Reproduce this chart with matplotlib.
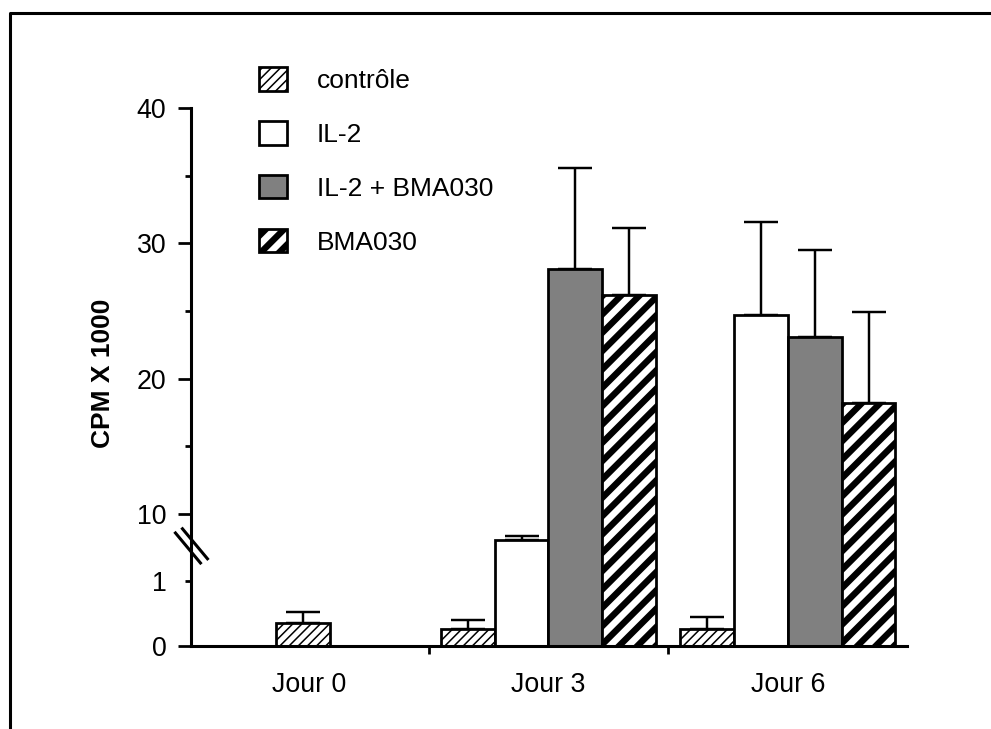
import numpy as np
import matplotlib
matplotlib.use('Agg')
import matplotlib.pyplot as plt
from matplotlib.lines import Line2D

plt.rcParams['font.family'] = ['Liberation Sans', 'DejaVu Sans']

groups = ['Jour 0', 'Jour 3', 'Jour 6']
series = ['contrôle', 'IL-2', 'IL-2 + BMA030', 'BMA030']

# CPM x 1000 per day; NaN where a condition was not measured
controle = [0.36, 0.27, 0.27]
controle_err = [0.17, 0.13, 0.18]
il2 = [np.nan, 6.5, 24.7]
il2_err = [np.nan, 0.6, 6.9]
il2_bma = [np.nan, 28.1, 23.1]
il2_bma_err = [np.nan, 7.5, 6.4]
bma = [np.nan, 26.2, 18.2]
bma_err = [np.nan, 4.9, 6.7]

# broken y axis: 0-1 and 10-40 drawn on their own linear pieces
yk = np.array([0.0, 1.0, 10.0, 40.0])
pk = np.array([0.0, 65.5, 132.5, 538.5])

def fwd(v):
    v = np.asarray(v, dtype=float)
    out = np.interp(v, yk, pk)
    out = np.where(v < 0, v * 65.5, out)
    out = np.where(v > 40, 538.5 + (v - 40) * 13.53, out)
    return out

def inv(p):
    p = np.asarray(p, dtype=float)
    out = np.interp(p, pk, yk)
    out = np.where(p < 0, p / 65.5, out)
    out = np.where(p > 538.5, 40 + (p - 538.5) / 13.53, out)
    return out

dpi = 110
fig = plt.figure(figsize=(991 / dpi, 729 / dpi), dpi=dpi)
ax = fig.add_axes([0.1932, 0.1132, 0.722, 0.7387])
ax.set_yscale('function', functions=(fwd, inv))

x = np.arange(len(groups))
w = 0.225
offs = np.array([-1.5, -0.5, 0.5, 1.5]) * w
# day 0 only has the control, centred on its group
ctrl_x = x + np.where(np.isnan(il2), -0.025, offs[0])

vals = [controle, il2, il2_bma, bma]
errs = [controle_err, il2_err, il2_bma_err, bma_err]
xs = [ctrl_x, x + offs[1], x + offs[2], x + offs[3]]
faces = ['white', 'white', '#808080', 'white']
hatches = ['////', None, None, '//']
hlw = [1.0, 1.0, 1.0, 4.2]

handles = []
for v, e, xx, fc, h, hl, lab in zip(vals, errs, xs, faces, hatches, hlw, series):
    with plt.rc_context({'hatch.linewidth': hl, 'hatch.color': 'black'}):
        bars = ax.bar(xx, v, width=w, color=fc, edgecolor='black',
                      linewidth=1.8, hatch=h, label=lab, zorder=2)
        for b in bars:
            if hasattr(b, 'set_hatch_linewidth'):
                b.set_hatch_linewidth(hl)
    handles.append(bars)
    e = np.asarray(e)
    ax.errorbar(xx, v, yerr=[np.zeros_like(e), e], fmt='none', ecolor='black',
                elinewidth=1.6, capsize=11, capthick=1.6, zorder=1)

ax.set_xlim(-0.492, 2.498)
ax.set_ylim(0, 40)

for s in ['top', 'right']:
    ax.spines[s].set_visible(False)
for s in ['left', 'bottom']:
    ax.spines[s].set_linewidth(2.0)

ax.set_yticks([0, 10, 20, 30, 40])
ax.set_yticks([1, 15, 25, 35], minor=True)
ax.set_yticklabels(['0', '10', '20', '30', '40'])
ax.set_yticklabels(['1', '', '', ''], minor=True)
ax.tick_params(axis='y', which='major', length=8.5, width=1.8, pad=8,
               labelsize=17.5, direction='out')
ax.tick_params(axis='y', which='minor', length=4, width=1.8, pad=12.5,
               labelsize=17.5, direction='out')

ax.set_xticks([0.5, 1.5])
ax.set_xticklabels(['', ''])
ax.set_xticks(x, minor=True)
ax.set_xticklabels(groups, minor=True)
ax.tick_params(axis='x', which='major', length=5, width=1.8, direction='out')
ax.tick_params(axis='x', which='minor', length=0, pad=17, labelsize=17.5)

ax.set_ylabel('CPM X 1000', fontsize=17.3, fontweight='bold', va='center')
ax.yaxis.set_label_coords(-0.1237, 0.508)

# axis break marks
for dx in (0.0, 7.0):
    x0, y0 = 175.5 + dx, 533.0 - dx * 0.6
    x1, y1 = x0 + 25.0, y0 + 30.0
    ax.add_line(Line2D([(x0 - 191.5) / 715.5, (x1 - 191.5) / 715.5],
                       [(646.5 - y0) / 538.5, (646.5 - y1) / 538.5],
                       transform=ax.transAxes, color='black', lw=2.0,
                       clip_on=False, zorder=5))

leg = ax.legend(handles=handles, loc='upper left',
                bbox_to_anchor=((259 - 191.5) / 715.5, (662 - 82.5) / 538.5),
                frameon=False, fontsize=17.3, handlelength=1.05, handleheight=1.0,
                handletextpad=1.13, labelspacing=1.06, borderpad=0, borderaxespad=0)
for lh, hl in zip(leg.legend_handles, hlw):
    if hasattr(lh, 'set_hatch_linewidth'):
        lh.set_hatch_linewidth(hl)

# outer frame (left and top edges)
fig.add_artist(Line2D([9.5 / 991, 9.5 / 991, 1.0], [0.0, 1 - 12.5 / 729, 1 - 12.5 / 729],
                      transform=fig.transFigure, color='black', lw=2.0))

fig.savefig('out.png', dpi=dpi)
